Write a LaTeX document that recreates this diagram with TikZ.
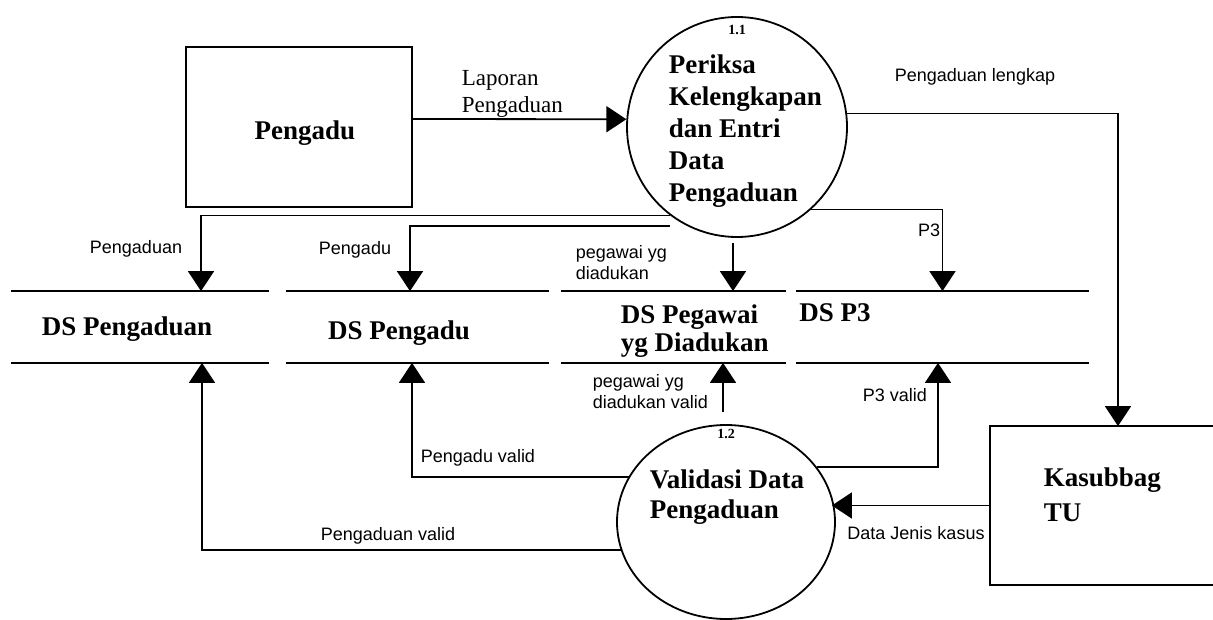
\documentclass[tikz,border=0pt]{standalone}
\usepackage{fontspec}
\setmainfont{Liberation Serif}
\setsansfont{Liberation Sans}
\usetikzlibrary{arrows.meta,shapes.geometric}

\begin{document}
\begin{tikzpicture}[x=1pt,y=-1pt,
  line width=1.8pt,
  flow/.style={draw,-{Triangle[length=20pt,width=26pt]}},
  entity/.style={draw,rectangle,inner sep=0pt},
  openentity/.style={rectangle,inner sep=0pt},
  proc/.style={draw,circle,inner sep=0pt},
  procoval/.style={draw,ellipse,inner sep=0pt},
  store/.style={inner sep=0pt,minimum height=70pt},
  bigtxt/.style={font=\fontsize{27}{32}\selectfont\bfseries,inner sep=0pt,align=left},
  storetxt/.style={font=\fontsize{27}{28}\selectfont\bfseries,inner sep=0pt,align=left},
  serlbl/.style={font=\fontsize{23}{27}\selectfont,inner sep=0pt,align=left},
  lbl/.style={font=\sffamily\fontsize{18}{21}\selectfont,inner sep=0pt,align=left},
  num/.style={font=\fontsize{14}{14}\selectfont\bfseries,inner sep=0pt},
]
\useasboundingbox (0,0) rectangle (1213,620);
\clip (0,0) rectangle (1213,620);

% external entities; Kasubbag TU is open on its right, where it leaves the page
\node[entity,minimum width=226pt,minimum height=160pt] (pengadu) at (299,127) {};
\node[bigtxt,anchor=base] (pengadutxt) at (305,140) {Pengadu};
\node[openentity,minimum width=270pt,minimum height=157pt] (kas) at (1126,505.5) {};
\draw (kas.north east) -- (kas.north west) -- (kas.south west) -- (kas.south east);
\node[bigtxt,anchor=north west,font=\fontsize{27}{35}\selectfont\bfseries] (kastxt) at (1043,467) {Kasubbag\\TU};

% processes
\node[proc,minimum size=220pt] (p11) at (737,127) {};
\node[num] (p11num) at (737,30) {1.1};
\node[bigtxt,anchor=north west] (p11txt) at (668,54) {Periksa\\Kelengkapan\\dan Entri\\Data\\Pengaduan};
\node[procoval,minimum width=218pt,minimum height=194pt] (p12) at (726,522) {};
\node[num] (p12num) at (726,434) {1.2};
\node[bigtxt,anchor=north west,font=\fontsize{27}{30}\selectfont\bfseries] (p12txt) at (649,469) {Validasi Data\\Pengaduan};

% data stores: two horizontal rules each
\node[store,minimum width=256pt] (s1) at (140,327) {};
\node[store,minimum width=261pt] (s2) at (417.5,327) {};
\node[store,minimum width=223pt] (s3) at (673.5,327) {};
\node[store,minimum width=291pt] (s4) at (942.5,327) {};
\foreach \s in {s1,s2,s3,s4}
  \draw (\s.north west) -- (\s.north east) (\s.south west) -- (\s.south east);
\node[storetxt,anchor=base] (s1txt) at (127,335) {DS Pengaduan};
\node[storetxt,anchor=base] (s2txt) at (399,339) {DS Pengadu};
\node[storetxt,anchor=north west] (s3txt) at (620,304) {DS Pegawai\\yg Diadukan};
\node[storetxt,anchor=base] (s4txt) at (835,322) {DS P3};

% flows between the entities and the processes
\draw[flow] ([yshift=8pt]pengadu.east) -- (p11.176);
\node[serlbl,anchor=north west] (lap) at (461,70) {Laporan\\Pengaduan};
\draw[flow] (p11.7) -| ([xshift=-8pt]kas.north);
\node[lbl] (lengkap) at (975,77) {Pengaduan lengkap};
\draw[flow,shorten >=-4pt] (kas.west) -- (kas.west -| p12.east);
\node[lbl] (jenis) at (916,533) {Data Jenis kasus};

% flows from 1.1 into the stores
\draw[flow] (p11.233) -| ([xshift=61pt]s1.north);
\node[lbl] (l1) at (136,249) {Pengaduan};
\draw[flow,shorten <=17pt] (p11.243) -| ([xshift=-7.5pt]s2.north);
\node[lbl] (l2) at (355,250) {Pengadu};
\draw[flow,shorten <=5pt] ([xshift=-4pt]p11.south) -- ([xshift=59.5pt]s3.north);
\node[lbl,anchor=west] (l3) at (575,263) {pegawai yg\\diadukan};
\draw[flow] (p11.312.6) -| (s4.north);
\node[lbl] (l4) at (929,230) {P3};

% flows from 1.2 back into the stores
\draw[flow] (p12.195.6) -| ([xshift=62pt]s1.south);
\node[lbl] (l5) at (388,536) {Pengaduan valid};
\draw[flow] (p12.155) -| ([xshift=-5.5pt]s2.south);
\node[lbl] (l6) at (478,458) {Pengadu valid};
\draw[flow,shorten <=12pt] ([xshift=-3pt]p12.north) -- ([xshift=49.5pt]s3.south);
\node[lbl,anchor=west] (l7) at (592,392) {pegawai yg\\diadukan valid};
\draw[flow] (p12.31.4) -| ([xshift=-4.5pt]s4.south);
\node[lbl] (l8) at (895,395) {P3 valid};
\end{tikzpicture}
\end{document}
